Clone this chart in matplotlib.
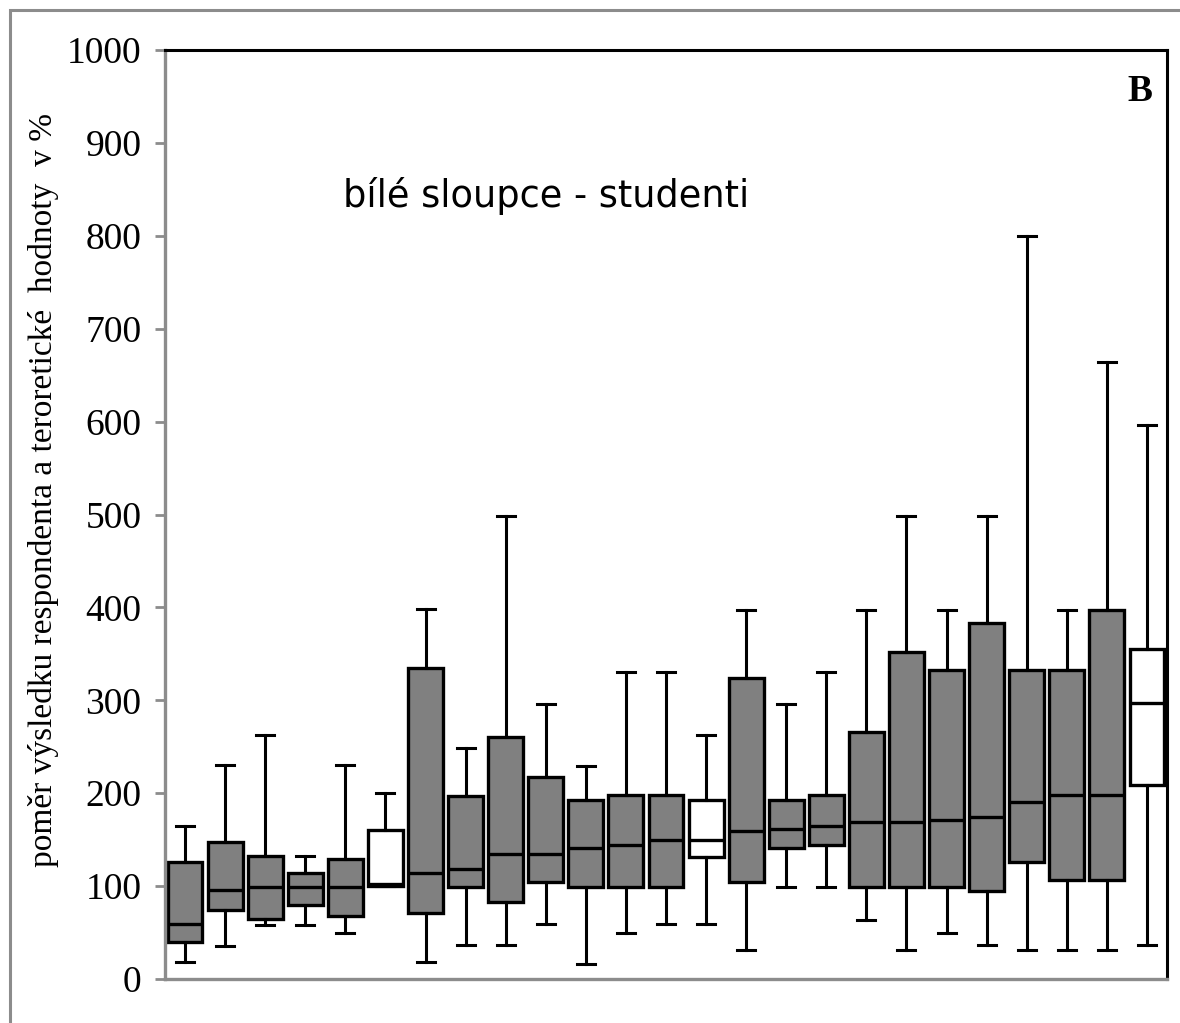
import matplotlib
matplotlib.use("Agg")
import matplotlib.pyplot as plt
from matplotlib.patches import Rectangle

# box statistics (percent)
whislo = [18, 36, 58, 58, 49, 100, 18, 37, 37, 59, 16, 49, 59, 59, 31, 99, 99, 64, 31, 49, 37, 31, 31, 31, 37]
q1 = [40, 74, 65, 80, 68, 100, 71, 99, 83, 104, 99, 99, 99, 131, 104, 141, 144, 99, 99, 99, 95, 126, 107, 107, 209]
med = [59, 96, 99, 99, 99, 102, 114, 118, 135, 135, 141, 144, 150, 150, 159, 162, 165, 169, 169, 171, 174, 190, 198, 198, 297]
q3 = [126, 148, 132, 114, 129, 160, 335, 197, 261, 217, 193, 198, 198, 193, 324, 193, 198, 266, 352, 333, 383, 333, 333, 397, 355]
whishi = [165, 230, 263, 132, 230, 200, 398, 249, 498, 296, 229, 330, 330, 263, 397, 296, 330, 397, 498, 397, 498, 800, 397, 664, 596]
students = [False, False, False, False, False, True, False, False, False, False, False, False, False,
            True, False, False, False, False, False, False, False, False, False, False, True]

yticks = list(range(0, 1001, 100))
ylabel = "poměr výsledku respondenta a teroretické  hodnoty  v %"
note = "bílé sloupce - studenti"
panel = "B"

W, H = 1180, 1023
fig = plt.figure(figsize=(W / 100, H / 100), dpi=100)
fig.patches.append(Rectangle((10 / W, -0.1), 1.2, (H - 10) / H + 0.1, transform=fig.transFigure,
                             fill=False, edgecolor="#8c8c8c", linewidth=2.2))
ax = fig.add_axes([165 / W, (H - 979) / H, (1167 - 165) / W, (979 - 50) / H])

stats = [dict(whislo=a, q1=b, med=c, q3=d, whishi=e) for a, b, c, d, e in zip(whislo, q1, med, q3, whishi)]
bp = ax.bxp(stats, positions=range(1, len(stats) + 1), widths=0.87, showfliers=False, patch_artist=True,
            boxprops=dict(linewidth=2.4, edgecolor="black"),
            medianprops=dict(color="black", linewidth=2.4),
            whiskerprops=dict(color="black", linewidth=2.2),
            capprops=dict(color="black", linewidth=2.2), capwidths=0.45)
for box, st in zip(bp["boxes"], students):
    box.set_facecolor("white" if st else "#808080")

ax.set_xlim(0.5, len(stats) + 0.5)
ax.set_ylim(0, 1000)
ax.set_yticks(yticks)
ax.set_xticks([])
ax.tick_params(axis="y", direction="out", length=7, width=2, color="#8c8c8c", pad=10)
for lab in ax.get_yticklabels():
    lab.set_fontfamily("Liberation Serif")
    lab.set_fontsize(27)

for side in ("left", "bottom"):
    ax.spines[side].set_color("#8c8c8c")
    ax.spines[side].set_linewidth(2.4)
for side in ("top", "right"):
    ax.spines[side].set_color("black")
    ax.spines[side].set_linewidth(2.2)

fig.text(44 / W, (H - 490) / H, ylabel, rotation=90, ha="center", va="center",
         fontfamily="Liberation Serif", fontsize=24)
ax.text(0.178, 0.843, note, transform=ax.transAxes, fontfamily="DejaVu Sans", fontsize=26.5,
        ha="left", va="center")
ax.text(0.985, 0.955, panel, transform=ax.transAxes, fontfamily="Liberation Serif", fontweight="bold",
        fontsize=27, ha="right", va="center")

fig.savefig("out.png", dpi=100)
